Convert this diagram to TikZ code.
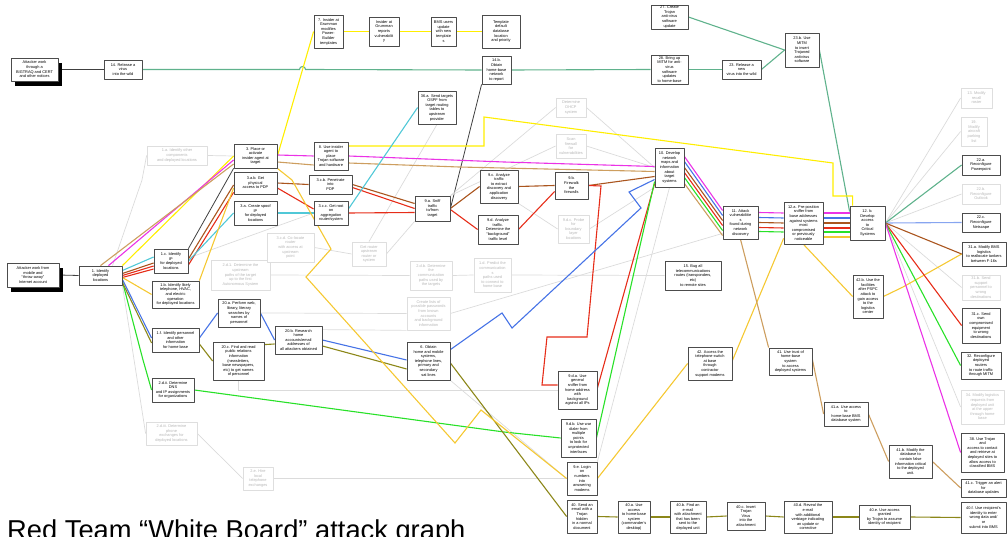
\documentclass[tikz,border=0pt]{standalone}
\usepackage{fontspec}
\setmainfont{Liberation Sans}
\usetikzlibrary{calc,shadows}
\pgfdeclarelayer{background}
\pgfsetlayers{background,main}
\definecolor{cvir}{RGB}{95,178,140}
\definecolor{cyel}{RGB}{255,238,0}
\definecolor{cgol}{RGB}{245,200,50}
\definecolor{cmag}{RGB}{235,50,230}
\definecolor{ctan}{RGB}{205,158,95}
\definecolor{cbro}{RGB}{170,85,30}
\definecolor{cred}{RGB}{230,45,25}
\definecolor{cblu}{RGB}{70,115,230}
\definecolor{cbl2}{RGB}{135,165,240}
\definecolor{cgrn}{RGB}{40,225,40}
\definecolor{coli}{RGB}{140,135,25}
\definecolor{ccya}{RGB}{80,200,215}
\begin{document}
\begin{tikzpicture}[x=1pt,y=-1pt,line cap=round,line join=round,
  box/.style={draw=black!70,line width=0.8pt,fill=white,align=center,inner sep=0.5pt,font=\fontsize{3.9}{4.6}\selectfont},
  gbox/.style={draw=black!13,line width=0.8pt,fill=white,align=center,inner sep=0.5pt,text=black!28,font=\fontsize{3.9}{4.6}\selectfont},
  sbox/.style={box,drop shadow={shadow xshift=4pt,shadow yshift=-5pt,fill=black,opacity=1}},
  sz/.style 2 args={minimum width=#1,minimum height=#2},
  wire/.style={line width=1.1pt},
  gline/.style={draw=black!14,line width=0.7pt},
  blk/.style={draw=black!75,line width=0.8pt}]
\useasboundingbox (0,0) rectangle (1007,537);
% boxes on the left
\node[sbox,sz={47}{23}] (atkA) at (34.5,69.5) {Attacker work\\through a\\BIGTRAQ and CERT\\and other notices};
\node[sbox,sz={52}{24}] (atkB) at (33,275) {Attacker work from\\mobile and\\``throw-away''\\Internet account};
\node[box,sz={38}{19}] (n14) at (123,69.5) {14. Release a\\virus\\into the wild};
\node[box,sz={43}{19}] (n1) at (100.5,275.5) {1. Identify\\deployed\\locations};
\node[box,sz={34}{24}] (n1c) at (171,261) {1.c. Identify\\IP\\for deployed\\locations};
\node[box,sz={47}{27}] (n1b) at (175.5,294.5) {1.b. Identify likely\\telephone, HVAC,\\and electric\\operation\\for deployed locations};
\node[box,sz={47}{24}] (n1f) at (175.5,340) {1.f. Identify personnel\\and other\\information\\for home base};
\node[box,sz={42}{24}] (n2dii) at (173,390) {2.d.ii. Determine\\DNS\\and IP assignments\\for organizations};
\node[box,sz={42}{28}] (n20a) at (239,313) {20.a. Perform web,\\library, literary\\searches by\\names of\\personnel};
\node[box,sz={51}{38}] (n20c) at (238.5,361) {20.c. Find and read\\public relations\\information\\(newsletters,\\base newspapers,\\etc) to get names\\of personnel};
\node[box,sz={47}{28}] (n20b) at (298.5,340) {20.b. Research\\home\\accounts/email\\addresses of\\all attackers obtained};
\node[box,sz={43}{24}] (n3) at (255.5,156) {3. Place or\\activate\\insider agent at\\target};
\node[box,sz={43}{22}] (n3ab) at (255.5,183) {3.a.b. Get\\physical\\access to PDP};
\node[box,sz={43}{24}] (n3a) at (255.5,213) {3.a. Create spoof\\IP\\for deployed\\locations};
\node[box,sz={29}{33}] (n7) at (328.5,31.5) {7. Insider at\\Grumman\\modifies\\Power-\\Builder\\templates};
\node[box,sz={30}{29}] (nIns) at (384,31.5) {Insider at\\Grumman\\reports\\vulnerabilit\\y};
\node[box,sz={25}{29}] (nBMS) at (443.5,31.5) {BMS users\\update\\with new\\template\\s};
\node[box,sz={38}{33}] (nTpl) at (501,31.5) {Template\\default\\database\\location\\and priority};
\node[box,sz={29}{28}] (n14b) at (496.5,70) {14.b.\\Obtain\\home-base\\network\\to report};
\node[box,sz={38}{33}] (n36a) at (437,107.5) {36.a. Send targets\\OSPF from\\target routing\\tables to\\upstream\\provider};
\node[box,sz={34}{28}] (n8) at (331,156) {8. Use insider\\agent to\\place\\Trojan software\\and hardware};
\node[box,sz={43}{19}] (n3cb) at (330.5,184.5) {3.c.b. Penetrate\\into\\PDP};
\node[box,sz={34}{24}] (n3cc) at (331,213) {3.c.c. Get root\\on\\aggregation\\router/system};
\node[box,sz={35}{25}] (n9a) at (432.5,208.5) {9.a. Sniff\\traffic\\to/from\\target};
\node[box,sz={38}{33}] (n9c) at (499,186.5) {9.c. Analyze\\traffic\\to extract\\discovery and\\application\\discovery};
\node[box,sz={40}{29}] (n9d) at (498,229.5) {9.d. Analyze\\traffic.\\Determine the\\``background''\\traffic level};
\node[box,sz={33}{27}] (n9b) at (571.5,185.5) {9.b.\\Firewalk\\the\\firewalls};
\node[box,sz={43}{38}] (n6) at (428.5,361) {6. Obtain\\home and mobile\\systems,\\telephone lines,\\primary and\\secondary\\sat lines};
% boxes in the middle
\node[box,sz={37}{24}] (n27) at (669.5,17) {27. Create\\Trojan\\anti-virus\\software\\update};
\node[box,sz={37}{29}] (n28) at (669.5,69.5) {28. Bring up\\MITM for anti-\\virus\\software\\updates\\to home-base};
\node[box,sz={39}{19}] (n23) at (741.5,69.5) {23. Release a\\new\\virus into the wild};
\node[box,sz={34}{34}] (n23b) at (802,50) {23.b. Use\\MITM\\to insert\\Trojaned\\antivirus\\software};
\node[box,sz={29}{39}] (n10) at (669.5,167.5) {10. Develop\\network\\maps and\\information\\about\\target\\systems};
\node[box,sz={35}{33}] (n11) at (740.5,222.5) {11. Attack\\vulnerabilitie\\s\\found during\\network\\discovery};
\node[box,sz={56}{29}] (n15) at (693,275.5) {15. Bug all\\telecommunications\\routes (transponders,\\etc)\\to remote sites};
\node[box,sz={39}{38}] (n9da) at (577.5,390) {9.d.a. Use\\general\\sniffer from\\home address\\with\\background\\against all IPs};
\node[box,sz={35}{38}] (n9db) at (578.5,438) {9.d.b. Use war\\dialer from\\multiple\\points\\to look for\\unprotected\\interfaces};
\node[box,sz={30}{33}] (n9e) at (582,478.5) {9.e. Login\\on\\numbers\\into\\answering\\modems};
\node[box,sz={30}{33}] (n40) at (582,516.5) {40. Send an\\email with a\\Trojan\\hidden\\in a normal\\document};
\node[box,sz={32}{32}] (n40a) at (634,517) {40.a. Use\\access\\to home-base\\system\\(commander's\\desktop)};
\node[box,sz={36}{32}] (n40b) at (688,517) {40.b. Find an\\e-mail\\with attachment\\that has been\\sent to the\\deployed unit};
\node[box,sz={38}{28}] (n40c) at (746,516) {40.c. Insert\\Trojan\\Virus\\into the\\attachment};
\node[box,sz={44}{33}] (n42) at (710,363.5) {42. Access the\\telephone switch\\at base\\through\\contractor\\support modems};
% boxes on the right
\node[box,sz={39}{42}] (n12a) at (803.5,223) {12.a. Pre-position\\sniffer from\\base addresses\\against systems\\most\\compromised\\or previously\\noticeable};
\node[box,sz={35}{34}] (n12b) at (867.5,223) {12. b.\\Develop\\access\\to\\Critical\\Systems};
\node[box,sz={30}{43}] (n42b) at (868,296.5) {42.b. Use the\\facilities\\after PSPC\\attack to\\gain access\\to the\\logistics\\center};
\node[box,sz={43}{27}] (n41) at (790.5,361.5) {41. Use trust of\\home-base\\system\\to access\\deployed systems};
\node[box,sz={44}{24}] (n41a) at (846,414) {41.a. Use access\\to\\home-base BMS\\database system};
\node[box,sz={43}{33}] (n41b) at (910.5,461.5) {41.b. Modify the\\database to\\contain false\\information critical\\to the deployed\\unit.};
\node[box,sz={48}{32}] (n40d) at (808,517) {40.d. Reveal the\\e-mail\\with additional\\verbiage indicating\\an update or\\corrective};
\node[box,sz={51}{24}] (n40e) at (884.5,517) {40.e. Use access\\granted\\by Trojan to assume\\identity of recipient};
\node[box,sz={38}{20}] (n22a) at (981,165) {22.a.\\Reconfigure\\Powerpoint};
\node[box,sz={38}{19}] (n22c) at (981,222.5) {22.c.\\Reconfigure\\Netscape};
\node[box,sz={44}{24}] (n31a) at (984,254) {31.a. Modify BMS\\logistics\\to reallocate tankers\\between F-16s};
\node[box,sz={38}{35}] (n31c) at (981,325.5) {31.c. Send\\own\\compromised\\equipment\\to wrong\\destinations};
\node[box,sz={40}{27}] (n32) at (981,365.5) {32. Reconfigure\\deployed\\routers\\to route traffic\\through MITM};
\node[box,sz={43}{39}] (n38) at (982.5,452.5) {38. Use Trojan\\and\\access to contact\\and retrieve at\\deployed sites to\\allow access to\\classified BMS};
\node[box,sz={45}{18}] (n41c) at (983.5,488) {41.c. Trigger an alert\\for\\database updates};
\node[box,sz={45}{31}] (n40f) at (983.5,517.5) {40.f. Use recipient's\\identity to enter\\wrong data and/\\or\\submit into BMS};
% grey boxes
\node[gbox,sz={60}{19}] (g1a) at (177,155.5) {1.a. Identify other\\components\\and deployed locations};
\node[gbox,sz={59}{30}] (g2d1) at (240.5,275) {2.d.1. Determine the\\upstream\\paths of the target\\up to the first\\Autonomous System};
\node[gbox,sz={47}{29}] (g3cd) at (290.5,247.5) {3.c.d. Co-locate\\router\\with access at\\upstream\\point};
\node[gbox,sz={34}{24}] (gGetR) at (369,254) {Get router\\upstream\\router or\\system};
\node[gbox,sz={42}{29}] (g2db) at (431,275.5) {2.d.b. Determine\\the\\communication\\paths used by\\the targets};
\node[gbox,sz={37}{34}] (g1d) at (492.5,275) {1.d. Predict the\\communication\\s\\paths used\\to connect to\\home base};
\node[gbox,sz={43}{33}] (gPass) at (428.5,313.5) {Create lists of\\possible passwords\\from known\\accounts\\and background\\information};
\node[gbox,sz={51}{23}] (g2diii) at (171.5,433.5) {2.d.iii. Determine\\phone\\exchanges for\\deployed locations};
\node[gbox,sz={30}{23}] (g2e) at (258,478.5) {2.e. Hire\\local\\telephone\\exchanges};
\node[gbox,sz={30}{19}] (gDHCP) at (571,107.5) {Determine\\DHCP\\system};
\node[gbox,sz={30}{24}] (gScan) at (571,146) {Scan\\firewall\\for\\vulnerabilities};
\node[gbox,sz={31}{28}] (gProbe) at (573.5,229) {9.d.c. Probe\\for\\boundary\\layer\\locations};
\node[gbox,sz={31}{20}] (g13) at (976.5,98) {13. Modify\\recall\\roster};
\node[gbox,sz={26}{29}] (g19) at (974,131.5) {19.\\Modify\\aircraft\\parking\\list};
\node[gbox,sz={38}{20}] (g22b) at (981,194) {22.b.\\Reconfigure\\Outlook};
\node[gbox,sz={38}{25}] (g31b) at (981,287.5) {31.b. Send\\support\\personnel to\\wrong\\destinations};
\node[gbox,sz={43}{34}] (g34) at (982.5,407) {34. Modify logistics\\requests from\\deployed unit\\at the upper\\through home\\base};
\node[anchor=base west,inner sep=0pt,font=\fontsize{27.3}{30}\selectfont] (title) at (7,539.5) {Red Team “White Board” attack graph};
\begin{pgfonlayer}{background}
\draw[blk] (atkA.east) -- (n14.west);
\draw[blk] (atkB.east) -- (n1.west);
\draw[blk] (n1c.north east) -- (n3.south west);
\draw[blk] (n14b.south west) -- (n9a.east);
% grey links
\draw[gline] ($(n1.north)+(12,0)$) -- (142,180) -- (g1a.west);
\draw[gline] (g1a.east) -- (n3.west);
\draw[gline] (n1.south east) -- (g2diii.west);
\draw[gline] (g2diii.east) -- (g2e.west);
\draw[gline] (g2e.east) -- (n9e.west);
\draw[gline] ($(n1c.east)+(0,-3)$) -- (n3cc.west);
\draw[gline] (g2d1.east) -- (g2db.west);
\draw[gline] (g2db.east) -- (g1d.west);
\draw[gline] (g1d.east) -- (n15.west);
\draw[gline] (n20a.east) -- (gPass.west);
\draw[gline] ($(n20b.north east)+(0,4)$) -- (gPass.south west);
\draw[gline] (gPass.east) -- ($(n11.south west)+(0,-6)$);
\draw[gline] (g3cd.east) -- (gGetR.west);
\draw[gline] (gGetR.east) -- (n9a.south west);
\draw[gline] (n36a.south) -- (gGetR.north);
\draw[gline] (gDHCP.west) -- (n9a.north east);
\draw[gline] (gScan.west) -- (n9a.north east);
\draw[gline] (gDHCP.east) -- (n10.west);
\draw[gline] (gScan.east) -- (n10.west);
\draw[gline] (n9c.south east) -- (gProbe.west);
\draw[gline] (gProbe.east) -- (n10.south west);
\draw[gline] (n20c.south) |- (n9da.west);
\draw[gline] (n9e.north east) -- (n10.south);
\draw[gline] (n6.south east) -- (n9e.west);
\foreach \g in {g13,g19,g22b,g31b,g34}
  \draw[gline] (n12b.east) -- (\g.west);
% virus chain
\draw[wire,cvir] (n14.east) -- (299.5,69.5) arc (180:360:3) -- (n14b.west);
\draw[wire,cvir] (n14b.east) -- (n28.west);
\draw[wire,cvir] (n28.east) -- (n23.west);
\draw[wire,cvir] (n27.east) -- (n23b.west);
\draw[wire,cvir] (n23.east) -- (n23b.west);
\draw[wire,cvir] (n23b.east) -- ($(n12b.north west)+(0,6)$);
\draw[wire,cvir] (n12b.east) -- (n22a.west);
% insider chain
\draw[wire,cyel] (n1.north east) -- (n3.west);
\draw[wire,cyel] (n3.east) -- (n7.west);
\draw[wire,cyel] (n7.east) -- (nIns.west);
\draw[wire,cyel] (nIns.east) -- (nBMS.west);
\draw[wire,cyel] (nBMS.east) -- (nTpl.west);
\draw[wire,cyel] ($(n8.east)+(0,-10)$) -- (484,146) -- (484,117) -- (833,163) -- (833,196) -| ($(n12b.north west)+(3,0)$);
% magenta and tan
\draw[wire,cmag] ($(n1.north)+(8,0)$) -- ($(n3.west)+(0,4)$);
\draw[wire,ctan] (n1.north) -- ($(n3.west)+(0,8)$);
\draw[wire,cmag] ($(n3.east)+(0,-1)$) -- (n8.west);
\draw[wire,ctan] ($(n3.east)+(0,6)$) -- ($(n8.west)+(0,9)$);
\draw[wire,cmag] (n8.east) -- (504,162) -- ($(n10.west)+(0,-1)$);
\draw[wire,ctan] ($(n8.east)+(0,7)$) -- (459,167) -- ($(n10.west)+(0,4)$);
% brown
\draw[wire,cbro] ($(n1.east)+(0,-2)$) -- ($(n1c.west)+(0,2)$);
\draw[wire,cbro] ($(n1c.east)+(0,-2)$) -- ($(n3ab.west)+(0,2)$);
\draw[wire,cbro] (n3ab.east) -- (n3cb.west);
\draw[wire,cbro] (n3cb.east) -- ($(n9a.west)+(0,-5)$);
\draw[wire,cbro] (n9a.east) -- (n9c.west);
\draw[wire,cbro] (n9c.east) -- (n9b.west);
\draw[wire,cbro] (n9b.east) -- ($(n10.west)+(0,9)$);
% red
\draw[wire,cred] (n1.east) -- ($(n1c.west)+(0,5)$);
\draw[wire,cred] ($(n1.east)+(0,2)$) -- ($(n1c.west)+(0,8)$);
\draw[wire,cred] ($(n1c.east)+(0,4)$) -- ($(n3ab.south west)+(0,-2)$);
\draw[wire,cred] ($(n3ab.east)+(0,5)$) -- ($(n3cc.west)+(0,-4)$);
\draw[wire,cred] ($(n3cb.east)+(0,3)$) -- (n9a.west);
\draw[wire,cred] (n3cc.east) -- ($(n9a.west)+(0,4)$);
\draw[wire,cred] ($(n9a.east)+(0,1)$) -- (n9d.west);
\draw[wire,cred] (n9d.east) -- ($(n9b.west)+(0,6)$);
\draw[wire,cred] (n9b.east) -- (601,186) -- (587,337) -- (547,337) -- (542,385) -- ($(n9da.west)+(0,-5)$);
\draw[wire,cred] ($(n9da.east)+(0,-2)$) -- ($(n10.west)+(0,16)$);
% blue
\draw[wire,cblu] ($(n1.east)+(0,4)$) -- ($(n1f.west)+(0,-2)$);
\draw[wire,cblu] ($(n1f.east)+(0,-2)$) -- (n20a.west);
\draw[wire,cblu] (n20a.east) -- (n20b.west);
\draw[wire,cblu] (n20b.east) -- ($(n6.west)+(0,-1)$);
\draw[wire,cblu] ($(n6.north east)+(0,8)$) -- (502,313) -- (512,328) -- (641,208) -- (629,192) -- ($(n10.west)+(0,12)$);
% green
\draw[wire,cgrn] ($(n1.east)+(0,6)$) -- (143,360) -- (n2dii.west);
\draw[wire,cgrn] (n2dii.east) -- (504,432) -- (n9db.west);
\draw[wire,cgrn] (n9db.east) -- ($(n10.west)+(0,14)$);
% olive
\draw[wire,coli] ($(n1.east)+(0,7)$) -- ($(n1f.west)+(0,3)$);
\draw[wire,coli] ($(n1f.east)+(0,4)$) -- (n20c.west);
\draw[wire,coli] ($(n20c.north east)+(0,3)$) -- ($(n20b.west)+(0,4)$);
\draw[wire,coli] ($(n20b.east)+(0,6)$) -- (385,363) -- ($(n6.west)+(0,8)$);
\draw[wire,coli] ($(n6.east)+(0,2)$) -- (n40.west);
\foreach \a/\b in {n40/n40a,n40a/n40b,n40b/n40c,n40c/n40d,n40d/n40e,n40e/n40f}
  \draw[wire,coli] (\a.east) -- (\b.west);
% cyan
\draw[wire,ccya] ($(n1.east)+(0,-5)$) -- ($(n1c.west)+(0,-4)$);
\draw[wire,ccya] (n1c.east) -- (n3a.west);
\draw[wire,ccya] (n3a.east) -- (n3cc.west);
\draw[wire,ccya] ($(n3cc.east)+(0,-4)$) -- (n36a.west);
% gold
\draw[wire,cgol] ($(n1.east)+(0,2)$) -- (n1b.west);
\draw[wire,cgol] (n1b.north east) -- ($(n3ab.west)+(0,5)$);
\draw[wire,cgol] (n3.south east) -- (292,180) -- (331,249) -- (306,277) -- (455,443) -- (481,410) -- (n9e.west);
\draw[wire,cgol] (n9e.east) -- (n42.west);
\draw[wire,cgol] ($(n42.east)+(0,-3)$) -- ($(n12a.south west)+(0,-6)$);
\draw[wire,cgol] ($(n12a.east)+(0,14)$) -- ($(n12b.west)+(0,14)$);
\draw[wire,cgol] (n12a.south) -- (n42b.west);
\draw[wire,cgol] (n42b.east) -- (903,287) -- (n31a.west);
% bundle towards the critical systems
\foreach \c/\a/\b in {cmag/-11/-12,cblu/-6/-7,cbro/0/-2,cred/5/3,cgrn/10/8,ctan/16/13}
  \draw[wire,\c] ($(n10.east)+(0,\a)$) -- ($(n11.west)+(0,\b)$);
\foreach \c/\a in {cmag/-10,cblu/-5,cbro/0,cred/5,cgrn/9}
  {\draw[wire,\c] ($(n11.east)+(0,\a)$) -- ($(n12a.west)+(0,\a)$);
   \draw[wire,\c] ($(n12a.east)+(0,\a)$) -- ($(n12b.west)+(0,\a)$);}
\draw[wire,cbl2] (n12b.east) -- (n22c.west);
\draw[wire,cbro] (n12b.east) -- (n31a.west);
\draw[wire,cred] (n12b.east) -- (n31c.west);
\draw[wire,cgrn] (n12b.east) -- (n32.west);
\draw[wire,cmag] (n12b.east) -- (n38.west);
% tan towards the database
\draw[wire,ctan] (n11.south) -- (n41.north west);
\draw[wire,ctan] ($(n41.east)+(0,-2)$) -- (n41a.west);
\draw[wire,ctan] (n41a.east) -- (n41b.west);
\draw[wire,ctan] (n41b.east) -- (n41c.west);
\end{pgfonlayer}
\end{tikzpicture}
\end{document}
